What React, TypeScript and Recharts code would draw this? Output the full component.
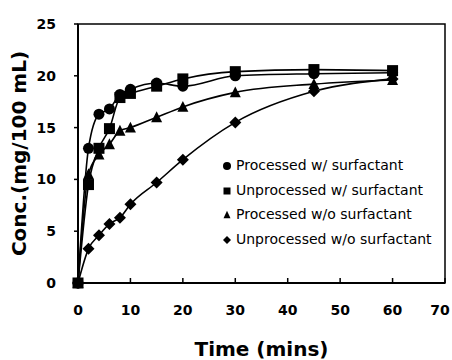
import { LineChart, Line, XAxis, YAxis, ReferenceArea, Label } from 'recharts';

const times = [0, 2, 4, 6, 8, 10, 15, 20, 30, 45, 60];
const processedWith = [0, 13.0, 16.3, 16.8, 18.2, 18.7, 19.3, 19.0, 20.0, 20.2, 20.3];
const unprocessedWith = [0, 9.5, 13.0, 14.9, 17.9, 18.3, 19.0, 19.7, 20.4, 20.6, 20.5];
const processedWithout = [0, 10.5, 12.4, 13.4, 14.7, 15.0, 16.0, 17.0, 18.4, 19.2, 19.6];
const unprocessedWithout = [0, 3.3, 4.6, 5.7, 6.3, 7.6, 9.7, 11.9, 15.5, 18.5, 19.7];

const xTicks = [0, 10, 20, 30, 40, 50, 60, 70];
const yTicks = [0, 5, 10, 15, 20, 25];

const seriesNames = [
  'Processed w/ surfactant',
  'Unprocessed w/ surfactant',
  'Processed w/o surfactant',
  'Unprocessed w/o surfactant',
];
const seriesKeys = ['pw', 'uw', 'pwo', 'uwo'];
const shapes = ['circle', 'square', 'triangle', 'diamond'];

const data = times.map((t, i) => ({
  t,
  pw: processedWith[i],
  uw: unprocessedWith[i],
  pwo: processedWithout[i],
  uwo: unprocessedWithout[i],
}));

function Marker({ shape, cx, cy, s }: { shape: string; cx: number; cy: number; s: number }) {
  if (shape === 'circle') return <circle cx={cx} cy={cy} r={s / 2} fill="#000" />;
  if (shape === 'square')
    return <rect x={cx - s / 2} y={cy - s / 2} width={s} height={s} fill="#000" />;
  if (shape === 'triangle') {
    const h = s * 0.9;
    return (
      <polygon
        points={`${cx},${cy - h / 2 - 1} ${cx - s / 2},${cy + h / 2} ${cx + s / 2},${cy + h / 2}`}
        fill="#000"
      />
    );
  }
  const d = s / 2 + 0.5;
  return (
    <polygon points={`${cx},${cy - d} ${cx + d},${cy} ${cx},${cy + d} ${cx - d},${cy}`} fill="#000" />
  );
}

function makeDot(shape: string) {
  return (props: any) => {
    const { cx, cy, index } = props;
    if (cx == null || cy == null) return <g key={index} />;
    return (
      <g key={`${shape}-${index}`}>
        <Marker shape={shape} cx={cx} cy={cy} s={11} />
      </g>
    );
  };
}

function XTick(props: any) {
  const { x, y, payload } = props;
  // last label sits against the right edge in the original
  const tx = payload.value === 70 ? x - 5 : x;
  return (
    <g>
      <line x1={x} x2={x} y1={y - 22} y2={y - 27} stroke="#000" strokeWidth={1.5} />
      <text
        x={tx}
        y={y}
        dy="0.72em"
        textAnchor="middle"
        fontFamily="DejaVu Sans"
        fontWeight="bold"
        fontSize={14}
        fill="#000"
      >
        {payload.value}
      </text>
    </g>
  );
}

function LegendBox() {
  return (
    <div
      style={{
        position: 'absolute',
        left: 220,
        top: 153,
        fontFamily: 'DejaVu Sans',
        fontSize: 14,
        color: '#000',
        whiteSpace: 'nowrap',
      }}
    >
      {seriesNames.map((name, i) => (
        <div key={name} style={{ display: 'flex', alignItems: 'center', height: 24.5 }}>
          <svg width={16} height={14}>
            <Marker shape={shapes[i]} cx={7} cy={8} s={i === 0 ? 8 : 7} />
          </svg>
          <span>{name}</span>
        </div>
      ))}
    </div>
  );
}

export default function App() {
  return (
    <div style={{ position: 'absolute', left: 0, top: 0, width: 452, height: 360, background: '#fff' }}>
      <LineChart
        width={452}
        height={360}
        data={data}
        margin={{ top: 24, right: 7, bottom: 0, left: 0 }}
      >
        <ReferenceArea x1={0} x2={70} y1={0} y2={25} fill="none" stroke="#000" strokeWidth={1.5} />
        <XAxis
          dataKey="t"
          type="number"
          domain={[0, 70]}
          ticks={xTicks}
          height={77}
          axisLine={{ stroke: '#000', strokeWidth: 2 }}
          tickLine={false}
          tickSize={0}
          tickMargin={22}
          tick={<XTick />}
          interval={0}
        >
          <Label
            value="Time (mins)"
            position="insideBottom"
            offset={4}
            style={{ fontFamily: 'DejaVu Sans', fontWeight: 'bold', fontSize: 20, fill: '#000' }}
          />
        </XAxis>
        <YAxis
          type="number"
          domain={[0, 25]}
          ticks={yTicks}
          width={78}
          axisLine={{ stroke: '#000', strokeWidth: 2 }}
          tickLine={{ stroke: '#000', strokeWidth: 1.5 }}
          tickSize={4}
          tickMargin={18}
          interval={0}
          tick={{ fontFamily: 'DejaVu Sans', fontWeight: 'bold', fontSize: 14, fill: '#000' }}
        >
          <Label
            value="Conc.(mg/100 mL)"
            angle={-90}
            position="insideLeft"
            offset={19}
            style={{
              fontFamily: 'DejaVu Sans',
              fontWeight: 'bold',
              fontSize: 20,
              fill: '#000',
              textAnchor: 'middle',
            }}
          />
        </YAxis>
        {seriesKeys.map((k, i) => (
          <Line
            key={k}
            dataKey={k}
            name={seriesNames[i]}
            type="monotone"
            stroke="#000"
            strokeWidth={1.6}
            dot={makeDot(shapes[i])}
            activeDot={false}
            isAnimationActive={false}
          />
        ))}
      </LineChart>
      <LegendBox />
    </div>
  );
}
